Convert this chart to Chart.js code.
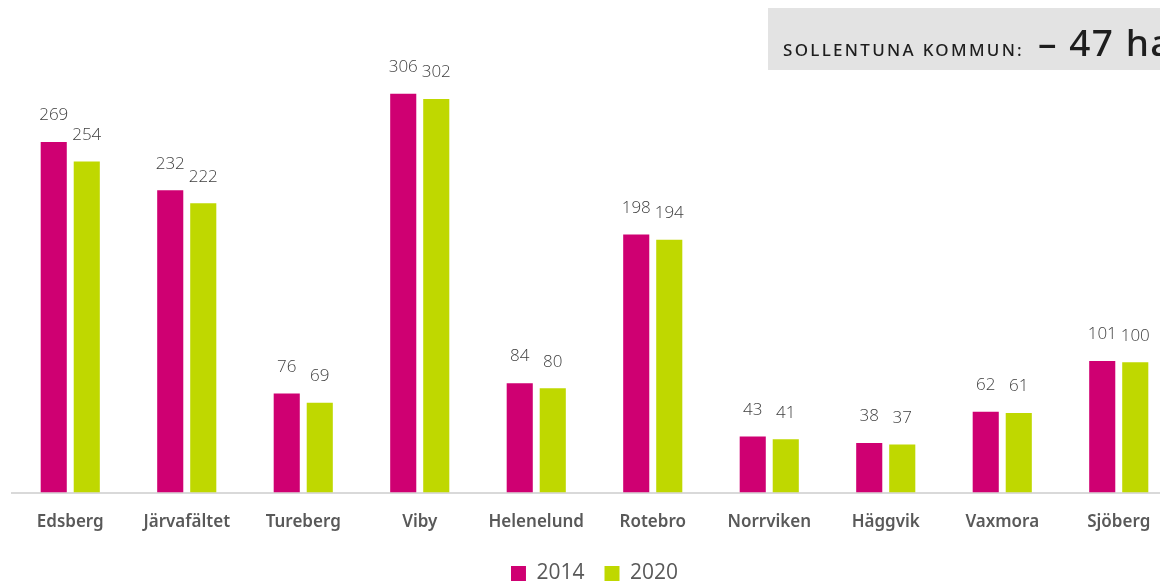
<!DOCTYPE html>
<html>
<head>
<meta charset="utf-8">
<script src="https://cdn.jsdelivr.net/npm/chart.js@4/dist/chart.umd.min.js"></script>
<style>
  html, body { margin: 0; padding: 0; background: #fff; overflow: hidden; }
  #wrap { position: relative; width: 1160px; height: 585px; overflow: hidden; }
  #box { position: absolute; width: 1198px; height: 594px; left: 0; top: 0; }
  #badge {
    position: absolute; left: 768px; top: 8px; width: 420px; height: 62px;
    background: #e3e3e3; font-family: "Noto Sans", sans-serif; color: #1e1e1e;
    white-space: nowrap;
  }
  #badge .line { position: absolute; left: 15px; top: 8px; line-height: 52px; }
  #badge .small { font-size: 17px; letter-spacing: 2.3px; font-weight: 500; }
  #badge .big { font-size: 37px; font-weight: 500; letter-spacing: 1.5px; margin-left: 14px; }
</style>
</head>
<body>
<div id="wrap">
  <div id="box"><canvas id="areaChart"></canvas></div>
  <div id="badge"><div class="line"><span class="small">SOLLENTUNA KOMMUN:</span><span class="big">– 47 ha</span></div></div>
</div>
<script>
// Data
const categories = ['Edsberg', 'Järvafältet', 'Tureberg', 'Viby', 'Helenelund', 'Rotebro', 'Norrviken', 'Häggvik', 'Vaxmora', 'Sjöberg'];
const values2014 = [269, 232, 76, 306, 84, 198, 43, 38, 62, 101];
const values2020 = [254, 222, 69, 302, 80, 194, 41, 37, 61, 100];

// draws the number above each bar
const barValues = {
    id: 'barValues',
    afterDatasetsDraw: function(chart) {
        const ctx = chart.ctx;
        ctx.save();
        ctx.font = '300 17px "Open Sans", sans-serif';
        ctx.fillStyle = '#404040';
        ctx.textAlign = 'center';
        ctx.textBaseline = 'bottom';
        chart.data.datasets.forEach(function(ds, i) {
            chart.getDatasetMeta(i).data.forEach(function(bar, j) {
                ctx.fillText(ds.data[j], bar.x, bar.y - 18);
            });
        });
        ctx.restore();
    }
};

const ctx = document.getElementById('areaChart').getContext('2d');
new Chart(ctx, {
    type: 'bar',
    data: {
        labels: categories,
        datasets: [{
            label: '2014',
            data: values2014,
            backgroundColor: '#cf0072',
            barPercentage: 0.79,
            categoryPercentage: 0.567
        }, {
            label: '2020',
            data: values2020,
            backgroundColor: '#bfd800',
            barPercentage: 0.79,
            categoryPercentage: 0.567
        }]
    },
    options: {
        responsive: true,
        maintainAspectRatio: false,
        animation: false,
        layout: {
            padding: { left: 12, right: 21, top: 0, bottom: 0 }
        },
        scales: {
            x: {
                grid: { display: false },
                border: { display: true, color: '#d9d9d9', width: 2 },
                ticks: {
                    color: '#595959',
                    font: { family: '"Noto Sans", sans-serif', size: 17, weight: '600' },
                    padding: 11,
                    maxRotation: 0,
                    autoSkip: false
                }
            },
            y: {
                display: false,
                min: 0,
                max: 378
            }
        },
        plugins: {
            legend: {
                position: 'bottom',
                labels: {
                    boxWidth: 15,
                    boxHeight: 15,
                    padding: 20,
                    color: '#595959',
                    font: { family: '"Open Sans", sans-serif', size: 21 }
                }
            },
            tooltip: { enabled: false }
        }
    },
    plugins: [barValues]
});
</script>
</body>
</html>
